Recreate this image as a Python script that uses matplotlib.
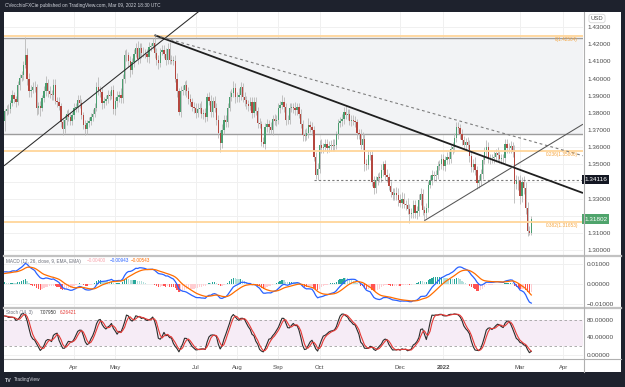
import numpy as np
import pandas as pd
import matplotlib
matplotlib.use("Agg")
import matplotlib.pyplot as plt
from matplotlib.patches import Rectangle
from matplotlib.transforms import blended_transform_factory

# ---------------- data (GBP/USD daily) ----------------
start_date = "2021-02-09"
end_date = "2022-03-09"
first_open = 1.3755

c_2021_02 = [1.3810, 1.3825, 1.3820, 1.3855, 1.3905, 1.3880, 1.3865, 1.3960, 1.4005, 1.4020, 1.4080, 1.4140, 1.4000, 1.3925]
c_2021_03 = [1.3935, 1.3950, 1.3950, 1.3830, 1.3840, 1.3830, 1.3885, 1.3925, 1.3975, 1.3925, 1.3910, 1.3905, 1.3965, 1.3870, 1.3865, 1.3840, 1.3745, 1.3705, 1.3760, 1.3795, 1.3775, 1.3750, 1.3785]
c_2021_04 = [1.3830, 1.3835, 1.3875, 1.3855, 1.3785, 1.3730, 1.3705, 1.3740, 1.3750, 1.3775, 1.3795, 1.3830, 1.3950, 1.3935, 1.3920, 1.3860, 1.3870, 1.3880, 1.3905, 1.3900, 1.3935, 1.3820]
c_2021_05 = [1.3870, 1.3895, 1.3905, 1.3885, 1.3995, 1.4140, 1.4135, 1.4100, 1.4050, 1.4095, 1.4145, 1.4180, 1.4115, 1.4180, 1.4150, 1.4150, 1.4145, 1.4125, 1.4185, 1.4190, 1.4205]
c_2021_06 = [1.4150, 1.4110, 1.4090, 1.4155, 1.4165, 1.4145, 1.4110, 1.4175, 1.4110, 1.4105, 1.4105, 1.4000, 1.3925, 1.3805, 1.3930, 1.3935, 1.3960, 1.3925, 1.3880, 1.3865, 1.3835, 1.3830]
c_2021_07 = [1.3800, 1.3825, 1.3830, 1.3795, 1.3800, 1.3775, 1.3890, 1.3870, 1.3805, 1.3870, 1.3830, 1.3760, 1.3680, 1.3625, 1.3700, 1.3760, 1.3745, 1.3830, 1.3895, 1.3915, 1.3945, 1.3890]
c_2021_08 = [1.3890, 1.3905, 1.3950, 1.3890, 1.3875, 1.3850, 1.3840, 1.3865, 1.3800, 1.3865, 1.3810, 1.3740, 1.3735, 1.3630, 1.3620, 1.3715, 1.3735, 1.3715, 1.3700, 1.3765, 1.3750, 1.3760]
c_2021_09 = [1.3830, 1.3845, 1.3865, 1.3835, 1.3760, 1.3760, 1.3830, 1.3835, 1.3830, 1.3815, 1.3835, 1.3795, 1.3735, 1.3670, 1.3665, 1.3680, 1.3730, 1.3715, 1.3700, 1.3545, 1.3440, 1.3470]
c_2021_10 = [1.3615, 1.3595, 1.3600, 1.3620, 1.3595, 1.3605, 1.3615, 1.3605, 1.3615, 1.3675, 1.3740, 1.3750, 1.3765, 1.3805, 1.3790, 1.3795, 1.3755, 1.3760, 1.3755, 1.3745, 1.3680]
c_2021_11 = [1.3675, 1.3615, 1.3650, 1.3500, 1.3495, 1.3555, 1.3555, 1.3400, 1.3360, 1.3410, 1.3425, 1.3420, 1.3465, 1.3500, 1.3440, 1.3425, 1.3375, 1.3340, 1.3320, 1.3335, 1.3320, 1.3295]
c_2021_12 = [1.3275, 1.3300, 1.3270, 1.3265, 1.3240, 1.3210, 1.3215, 1.3265, 1.3215, 1.3230, 1.3290, 1.3325, 1.3235, 1.3215, 1.3245, 1.3380, 1.3410, 1.3440, 1.3430, 1.3440, 1.3490, 1.3500, 1.3530]
c_2022_01 = [1.3490, 1.3525, 1.3545, 1.3530, 1.3590, 1.3600, 1.3655, 1.3715, 1.3710, 1.3675, 1.3640, 1.3610, 1.3630, 1.3615, 1.3550, 1.3485, 1.3500, 1.3465, 1.3390, 1.3410, 1.3445]
c_2022_02 = [1.3525, 1.3570, 1.3600, 1.3530, 1.3535, 1.3535, 1.3545, 1.3565, 1.3555, 1.3530, 1.3535, 1.3535, 1.3620, 1.3595, 1.3595, 1.3605, 1.3570, 1.3385, 1.3410, 1.3410]
c_2022_03 = [1.3315, 1.3395, 1.3360, 1.3245, 1.3110, 1.3100, 1.31802]

# wick lengths beyond the body, in pips
wick_up = [
    15, 20, 25, 20, 30, 15, 20, 25, 20, 25, 20, 101, 40, 30,
    25, 30, 35, 20, 25, 30, 20, 30, 40, 20, 30, 25, 35, 30, 20, 25, 20, 20, 25, 20, 25, 25, 20,
    25, 20, 30, 30, 25, 20, 30, 20, 25, 25, 25, 30, 30, 60, 20, 30, 25, 25, 30, 20, 20, 25,
    25, 30, 25, 40, 30, 25, 30, 20, 30, 25, 25, 30, 40, 25, 30, 35, 25, 25, 30, 20, 30,
    45, 30, 30, 25, 30, 30, 35, 30, 40, 25, 25, 30, 30, 20, 25, 30, 25, 30, 25, 30, 20, 30,
    25, 30, 25, 40, 25, 30, 25, 30, 35, 25, 30, 25, 25, 20, 35, 30, 30, 25, 30, 25, 40, 30,
    30, 40, 30, 25, 30, 25, 25, 30, 25, 25, 30, 25, 30, 20, 30, 25, 30, 25, 30, 25, 30, 25,
    30, 25, 40, 25, 25, 30, 30, 25, 25, 35, 25, 25, 30, 25, 35, 30, 40, 25, 30, 25, 25, 40,
    25, 30, 25, 30, 25, 30, 25, 30, 30, 20, 25, 25, 30, 30, 35, 30, 30, 25, 30, 25, 20,
    25, 30, 40, 25, 30, 30, 25, 25, 30, 25, 25, 30, 35, 20, 25, 30, 25, 30, 20, 30, 35, 40,
    30, 40, 35, 25, 40, 30, 30, 25, 30, 30, 40, 40, 30, 25, 30, 25, 30, 25, 20, 25, 30, 25, 30,
    30, 25, 25, 30, 25, 30, 25, 30, 33, 25, 30, 25, 25, 30, 25, 30, 30, 40, 25, 30, 25,
    25, 30, 40, 30, 25, 25, 30, 25, 35, 25, 25, 25, 25, 30, 30, 30, 25, 40, 30, 25,
    30, 30, 40, 40, 35, 30, 20,
]
wick_dn = [
    60, 20, 25, 20, 15, 25, 30, 20, 25, 20, 30, 20, 40, 35,
    30, 20, 30, 40, 35, 50, 20, 20, 25, 35, 25, 30, 30, 20, 30, 25, 30, 35, 25, 30, 20, 20, 20,
    20, 25, 30, 25, 20, 25, 35, 30, 25, 20, 25, 20, 20, 30, 25, 35, 30, 25, 20, 25, 20, 25,
    30, 35, 30, 25, 30, 20, 30, 35, 40, 25, 25, 20, 30, 25, 30, 25, 25, 30, 35, 25, 20,
    30, 30, 35, 25, 20, 25, 30, 25, 25, 20, 25, 20, 35, 20, 30, 25, 30, 35, 30, 25, 25, 30,
    30, 25, 25, 25, 30, 30, 25, 25, 30, 30, 25, 30, 25, 55, 30, 25, 25, 30, 20, 25, 25, 30,
    25, 25, 30, 25, 35, 25, 30, 25, 30, 25, 25, 30, 25, 25, 20, 30, 25, 30, 25, 30, 20, 25,
    25, 30, 25, 30, 30, 25, 25, 25, 30, 25, 30, 25, 25, 35, 30, 25, 25, 25, 30, 25, 28, 30,
    20, 30, 30, 25, 30, 25, 30, 25, 30, 25, 30, 25, 25, 30, 25, 30, 25, 30, 25, 25, 30,
    30, 25, 30, 40, 30, 25, 30, 25, 35, 25, 30, 25, 25, 30, 30, 25, 25, 30, 25, 30, 25, 35,
    25, 30, 25, 30, 30, 50, 25, 30, 25, 35, 30, 25, 30, 45, 25, 25, 20, 30, 25, 25, 25, 25, 30,
    25, 30, 25, 30, 25, 30, 30, 25, 30, 30, 25, 25, 30, 25, 35, 30, 30, 25, 32, 30, 30,
    30, 25, 30, 25, 30, 25, 25, 30, 35, 25, 30, 25, 25, 30, 30, 30, 25, 113, 30, 60,
    45, 35, 30, 35, 27, 10, 10,
]

# indicator state at the first visible bar
macd_at_start = 0.0061
signal_at_start = 0.0050

# fibonacci levels, drawn horizontal levels and trendline anchors (bar index, price)
fib_ratios = ["0", "0.236", "0.382"]
fib_levels = [1.42504, 1.35800, 1.31653]
range_box = [1.36794, 1.42385]
support_level = 1.34116
support_start_bar = 165
last_price = 1.31802
trend_up_2021 = [(0, 1.34943), (100, 1.43600)]
trend_down_solid = [(80, 1.42530), (250, 1.35688)]
trend_down_dashed = [(80, 1.42530), (243, 1.37520)]
trend_up_dec = [(224, 1.31720), (252, 1.33580)]

month_labels = ["Apr", "May", "Jul", "Aug", "Sep", "Oct", "Dec", "2022", "Mar", "Apr"]
month_starts = ["2021-04", "2021-05", "2021-07", "2021-08", "2021-09", "2021-10", "2021-12", "2022-01", "2022-03", "2022-04"]
price_ticks = [1.30, 1.31, 1.32, 1.33, 1.34, 1.35, 1.36, 1.37, 1.38, 1.39, 1.40, 1.41, 1.42, 1.43]
macd_ticks = [0.01, 0.0, -0.01]
macd_tick_labels = ["0.01000", "0.00000", "\u22120.01000"]
stoch_ticks = [80, 40, 0]
stoch_tick_labels = ["80.00000", "40.00000", "0.00000"]

# ---------------- prepare ----------------
close = np.array(c_2021_02 + c_2021_03 + c_2021_04 + c_2021_05 + c_2021_06 + c_2021_07 +
                 c_2021_08 + c_2021_09 + c_2021_10 + c_2021_11 + c_2021_12 + c_2022_01 +
                 c_2022_02 + c_2022_03)
dates = pd.bdate_range(start_date, end_date)
n = len(close)
assert n == len(dates) == len(wick_up) == len(wick_dn)
xi = np.arange(n)
opn = np.r_[first_open, close[:-1]]
high = np.maximum(opn, close) + np.array(wick_up) / 1e4
low = np.minimum(opn, close) - np.array(wick_dn) / 1e4

all_days = pd.bdate_range(start_date, "2022-04-29")
tick_pos = [int(np.argmax(all_days.strftime("%Y-%m") == m)) for m in month_starts]


def ema(values, span, prior):
    alpha = 2.0 / (span + 1)
    out = np.empty(len(values))
    state = prior
    for j, v in enumerate(values):
        state = state + alpha * (v - state)
        out[j] = state
    return out


ema12 = ema(close, 12, close[0] - 5.5 / 7 * macd_at_start)
ema26 = ema(close, 26, close[0] - 12.5 / 7 * macd_at_start)
macd = ema12 - ema26
signal = ema(macd, 9, signal_at_start)
hist = macd - signal
hcol = []
for j in range(n):
    hp = hist[j - 1] if j > 0 else hist[j]
    if hist[j] >= 0:
        hcol.append("#26a69a" if hist[j] >= hp else "#b2dfdb")
    else:
        hcol.append("#ff5252" if hist[j] < hp else "#ffcdd2")
s = pd.Series(close)
hh = pd.Series(high).rolling(14, min_periods=1).max()
ll = pd.Series(low).rolling(14, min_periods=1).min()
fastk = 100 * (s - ll) / (hh - ll)
k_line = fastk.rolling(3, min_periods=1).mean()
d_line = k_line.rolling(3, min_periods=1).mean()

# ---------------- figure ----------------
plt.rcParams["font.family"] = ["Liberation Sans", "DejaVu Sans"]
W, H = 625, 387
fig = plt.figure(figsize=(W / 100, H / 100), dpi=100, facecolor="#1e222d")


def fbox(x0, y0, x1, y1):
    return [x0 / W, 1 - y1 / H, (x1 - x0) / W, (y1 - y0) / H]


fig.patches.append(Rectangle((4 / W, 1 - 372 / H), 617 / W, 360 / H, transform=fig.transFigure,
                             facecolor="white", edgecolor="none", zorder=-10))

ax = fig.add_axes(fbox(4, 12, 583, 256))
axm = fig.add_axes(fbox(4, 256, 583, 307.5), sharex=ax)
axs = fig.add_axes(fbox(4, 307.5, 583, 359), sharex=ax)

XMIN, XMAX = -0.35, 308.6
TXT = "#4a4a4a"
for a in (ax, axm, axs):
    a.set_facecolor("none")
    a.set_zorder(1)
    for sp in a.spines.values():
        sp.set_visible(False)
    a.set_xlim(XMIN, XMAX)
    a.set_xticks(tick_pos)
    a.yaxis.tick_right()
    a.tick_params(axis="y", length=0, pad=3.0, labelsize=4.6, labelcolor=TXT)
    a.tick_params(axis="x", length=0)
    a.grid(True, color="#f0f0f0", lw=0.7, zorder=0)
    a.set_axisbelow(True)
ax.tick_params(labelbottom=False)
axm.tick_params(labelbottom=False)
axs.tick_params(axis="x", labelbottom=True, pad=4.0, labelsize=4.3, labelcolor=TXT)
axs.set_xticklabels(month_labels)
for lab in axs.get_xticklabels():
    if lab.get_text() == "2022":
        lab.set_fontweight("bold")

# ---- main price panel ----
ax.set_ylim(1.29659, 1.43878)
ax.set_yticks(price_ticks)
# tick labels that sit behind the price boxes on the axis are left blank
hidden = [round(support_level, 2), round(last_price, 2)]
ax.set_yticklabels(["" if round(v, 2) in hidden else f"{v:.5f}" for v in price_ticks])

ax.axhspan(range_box[0], range_box[1], facecolor="#f2f3f5", edgecolor="none", zorder=1)
for v in range_box:
    ax.axhline(v, color="#9c9c9c", lw=1.0, zorder=2)

up = close >= opn
ax.vlines(xi, low, high, color="#b8b8b8", lw=0.6, zorder=3)
ax.bar(xi, np.maximum(np.abs(close - opn), 0.00012), bottom=np.minimum(opn, close), width=0.7,
       color=np.where(up, "#4a9d6f", "#b4473f"), lw=0, zorder=4)

bt = blended_transform_factory(ax.transAxes, ax.transData)
for r, lv in zip(fib_ratios, fib_levels):
    ax.axhline(lv, color="#ffd59a", lw=1.3, zorder=5)
    ax.text(0.9914, lv - 0.0006, f"{r}({lv:.5f})", transform=bt, ha="right", va="top",
            color="#f5a53f", fontsize=3.4, zorder=8)

ax.hlines(support_level, support_start_bar, XMAX, colors="#7a7a7a", linestyles=(0, (2, 2)), lw=0.8, zorder=5)


def draw_trend(pts, xfrom, **kw):
    (x0, y0), (x1, y1) = pts
    sl = (y1 - y0) / (x1 - x0)
    xs = np.array([xfrom, XMAX])
    ax.plot(xs, y0 + sl * (xs - x0), zorder=6, solid_capstyle="butt", **kw)


draw_trend(trend_up_2021, XMIN, color="#2a2a2a", lw=0.75)
draw_trend(trend_down_solid, trend_down_solid[0][0], color="#1f1f1f", lw=1.3)
draw_trend(trend_down_dashed, trend_down_dashed[0][0], color="#7d7d7d", lw=0.8, ls=(0, (2.5, 2.5)))
draw_trend(trend_up_dec, trend_up_dec[0][0], color="#555555", lw=0.75)
ax.set_ylim(1.29659, 1.43878)

ax.text(1.0 + 1 / 579, support_level, f"{support_level:.5f}", transform=bt, ha="left", va="center",
        color="white", fontsize=4.6, zorder=10, clip_on=False,
        bbox=dict(boxstyle="square,pad=0.35", fc="#131722", ec="none"))
ax.text(1.0 + 1 / 579, last_price, f"{last_price:.5f}", transform=bt, ha="left", va="center",
        color="white", fontsize=4.6, zorder=10, clip_on=False,
        bbox=dict(boxstyle="square,pad=0.35", fc="#4fa46c", ec="none"))

fig.text(597 / W, 1 - 18.5 / H, "USD", ha="center", va="center", fontsize=4.2, color=TXT,
         bbox=dict(boxstyle="round,pad=0.3,rounding_size=0.4", fc="white", ec="#d6d6d6", lw=0.6))

# ---- MACD panel ----
axm.set_ylim(-0.01163, 0.01386)
axm.set_yticks(macd_ticks)
axm.set_yticklabels(macd_tick_labels)
axm.bar(xi, hist, width=0.7, color=hcol, lw=0, zorder=2)
axm.plot(xi, macd, color="#2962ff", lw=0.9, zorder=3)
axm.plot(xi, signal, color="#ff6d00", lw=0.9, zorder=3)

# ---- Stoch panel ----
axs.set_ylim(-9.07, 107.6)
axs.set_yticks(stoch_ticks)
axs.set_yticklabels(stoch_tick_labels)
axs.axhspan(20, 80, facecolor="#f6ecf6", edgecolor="none", zorder=1)
for v in (20, 80):
    axs.axhline(v, color="#a0a0a0", lw=0.6, ls=(0, (3, 3)), zorder=2)
axs.plot(xi, k_line, color="#2b2b2b", lw=0.8, zorder=3)
axs.plot(xi, d_line, color="#e53935", lw=0.8, zorder=3)

# ---- separators ----
for yy, col, lw in [(256, "#c2c2c2", 1.6), (307.5, "#c2c2c2", 1.6), (359, "#b0b0b0", 0.8)]:
    fig.add_artist(plt.Line2D([4 / W, 621 / W], [1 - yy / H, 1 - yy / H], transform=fig.transFigure,
                              color=col, lw=lw))
fig.add_artist(plt.Line2D([583.5 / W, 583.5 / W], [1 - 12 / H, 1 - 372 / H], transform=fig.transFigure,
                          color="#b0b0b0", lw=0.8))

# ---- legends / texts ----
fs_leg = 3.3
fig.text(6 / W, 1 - 261 / H, "MACD (12, 26, close, 9, EMA, EMA)", fontsize=fs_leg, color="#6a6d78", va="center")
fig.text(87 / W, 1 - 261 / H, "\u22120.00400", fontsize=fs_leg, color="#f7a3ab", va="center")
fig.text(110 / W, 1 - 261 / H, "\u22120.00943", fontsize=fs_leg, color="#2962ff", va="center")
fig.text(131 / W, 1 - 261 / H, "\u22120.00543", fontsize=fs_leg, color="#ff6d00", va="center")
fig.text(6 / W, 1 - 312.5 / H, "Stoch (14, 3)", fontsize=fs_leg, color="#6a6d78", va="center")
fig.text(40 / W, 1 - 312.5 / H, "7.07950", fontsize=fs_leg, color="#2b2b2b", va="center")
fig.text(60 / W, 1 - 312.5 / H, "6.26421", fontsize=fs_leg, color="#e53935", va="center")

fig.text(5 / W, 1 - 6 / H, "CVecchioFXCie published on TradingView.com, Mar 09, 2022 18:30 UTC",
         fontsize=3.4, color="#d1d4dc", va="center")
fig.text(5 / W, 1 - 380 / H, "TV", fontsize=3.8, color="#d1d4dc", va="center", fontweight="bold")
fig.text(14 / W, 1 - 380 / H, "TradingView", fontsize=3.4, color="#d1d4dc", va="center")

fig.savefig("out.png", dpi=100, facecolor=fig.get_facecolor())
